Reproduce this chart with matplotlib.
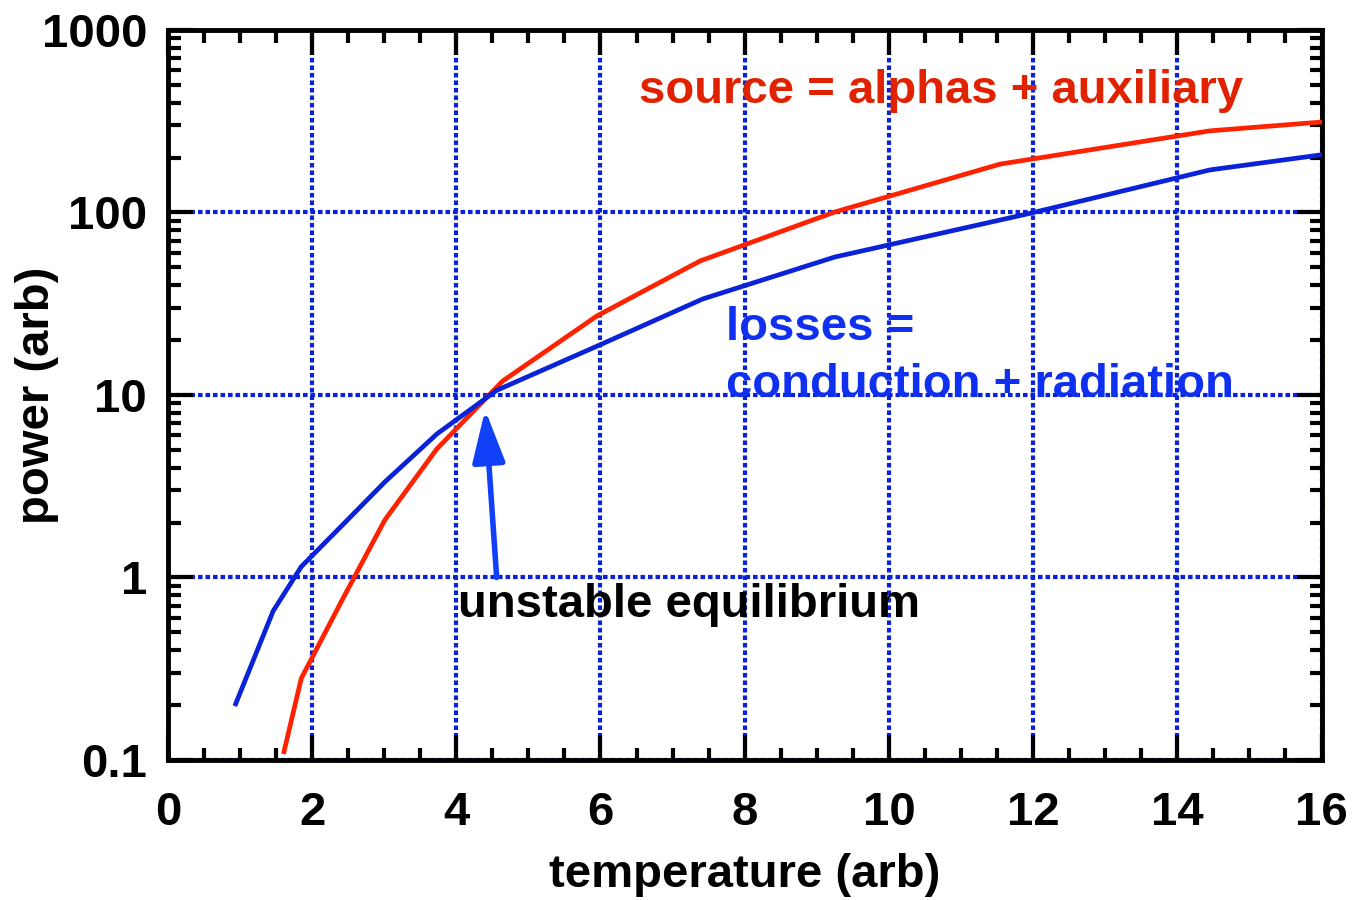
import matplotlib
matplotlib.use("Agg")
import matplotlib.pyplot as plt
from matplotlib.ticker import FixedLocator, FixedFormatter, MultipleLocator, LogLocator, NullFormatter

plt.rcParams['font.family'] = ['Liberation Sans', 'DejaVu Sans']
plt.rcParams['font.weight'] = 'bold'

# losses = conduction + radiation
loss_t = [0.94, 1.46, 1.85, 2.45, 3.01, 3.73, 4.56, 5.99, 7.42, 9.25, 11.98, 14.45, 16.0]
loss_p = [0.203, 0.655, 1.146, 1.99, 3.34, 6.11, 10.6, 18.8, 33.6, 57, 99.4, 171, 207]

# source = alphas + auxiliary
src_t = [1.61, 1.85, 2.43, 3.01, 3.73, 4.64, 5.95, 7.38, 9.25, 11.54, 14.45, 16.0]
src_p = [0.111, 0.28, 0.77, 2.07, 5.06, 11.9, 27.1, 54.2, 100.6, 184, 280, 313]

y_ticks = [0.1, 1, 10, 100, 1000]
y_labels = ["0.1", "1", "10", "100", "1000"]

red = '#ff2200'
blue = '#0a22d8'

fig = plt.figure(figsize=(13.54, 9), dpi=100)
ax = fig.add_axes([0.124, 0.1556, 0.852, 0.8111])

ax.plot(src_t, src_p, color=red, lw=3.4, zorder=3)
ax.plot(loss_t, loss_p, color=blue, lw=3.4, zorder=3)

ax.set_yscale('log')
ax.set_xlim(0, 16)
ax.set_ylim(0.1, 1000)

ax.xaxis.set_major_locator(MultipleLocator(2))
ax.xaxis.set_minor_locator(MultipleLocator(0.5))
ax.yaxis.set_major_locator(FixedLocator(y_ticks))
ax.yaxis.set_major_formatter(FixedFormatter(y_labels))
ax.yaxis.set_minor_locator(LogLocator(base=10, subs=range(2, 10)))
ax.yaxis.set_minor_formatter(NullFormatter())

ax.grid(True, which='major', color=blue, linestyle=(0, (1.1, 0.7)), lw=3, zorder=1)

for s in ax.spines.values():
    s.set_linewidth(3.5)
ax.tick_params(which='both', direction='in', top=True, right=True, width=3)
ax.tick_params(which='major', length=18, labelsize=34, pad=15)
ax.tick_params(which='minor', length=9)
ax.tick_params(axis='x', which='major', pad=22)

ax.set_xlabel('temperature (arb)', fontsize=34, fontweight='bold')
ax.set_ylabel('power (arb)', fontsize=34, fontweight='bold')
ax.xaxis.set_label_coords(0.5, -0.128)
ax.yaxis.set_label_coords(-0.094, 0.5)

ax.text(6.54, 463, 'source = alphas + auxiliary', color='#e02200', fontsize=34,
        fontweight='bold', va='center', ha='left')
ax.text(7.74, 23.3, 'losses =', color='#1030f0', fontsize=34, fontweight='bold', va='center')
ax.text(7.74, 11.35, 'conduction + radiation', color='#1030f0', fontsize=34,
        fontweight='bold', va='center')
ax.text(4.02, 0.707, 'unstable equilibrium', color='black', fontsize=34,
        fontweight='bold', va='center')

ax.annotate('', xy=(4.40, 8.3), xytext=(4.56, 1.0),
            arrowprops=dict(arrowstyle='-|>,head_length=3.2,head_width=1.0',
                            color='#1040f8', lw=4, shrinkA=0, shrinkB=0), zorder=4)

fig.savefig('out.png', dpi=100)
